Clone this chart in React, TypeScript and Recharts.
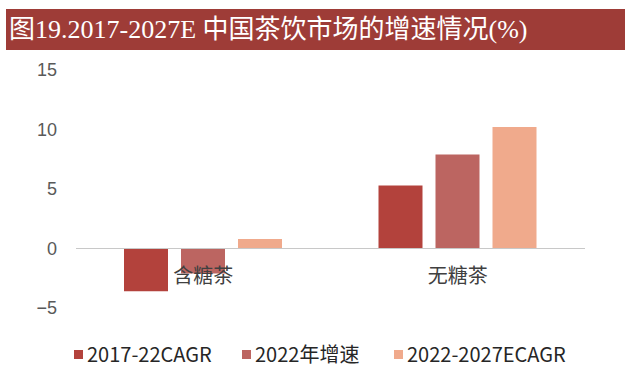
import React from "react";
import { BarChart, Bar, XAxis, YAxis, ReferenceLine, Legend } from "recharts";

const categories = ["含糖茶", "无糖茶"];
const cagr2017to2022 = [-3.6, 5.3];
const growth2022 = [-2.1, 7.9];
const cagr2022to2027 = [0.8, 10.2];
const yTicks = [-5, 0, 5, 10, 15];

const seriesNames = ["2017-22CAGR", "2022年增速", "2022-2027ECAGR"];
const seriesColors = ["#B3423C", "#BC6561", "#F0AA8C"];

const data = categories.map((name, i) => ({
  name,
  s1: cagr2017to2022[i],
  s2: growth2022[i],
  s3: cagr2022to2027[i],
}));

const CJK = '"Noto Sans CJK SC", "Liberation Sans", sans-serif';

function CategoryTick(props: any) {
  const { x, y, payload } = props;
  return (
    <text
      x={x}
      y={y - 42}
      textAnchor="middle"
      dominantBaseline="central"
      fill="#404040"
      fontSize={20}
      fontFamily={CJK}
    >
      {payload.value}
    </text>
  );
}

function LegendContent() {
  const lefts = [0, 168, 320];
  return (
    <div style={{ position: "relative", height: 24, width: 540 }}>
      {seriesNames.map((n, i) => (
        <div
          key={n}
          style={{
            position: "absolute",
            left: lefts[i],
            top: 0,
            display: "flex",
            alignItems: "center",
            whiteSpace: "nowrap",
          }}
        >
          <span
            style={{
              display: "inline-block",
              width: 9,
              height: 9,
              background: seriesColors[i],
              marginRight: 4,
            }}
          />
          <span style={{ fontFamily: CJK, fontSize: 20, color: "#262626", lineHeight: "24px" }}>{n}</span>
        </div>
      ))}
    </div>
  );
}

export default function App() {
  return (
    <div
      style={{
        position: "absolute",
        left: 0,
        top: 0,
        width: 640,
        height: 386,
        background: "#ffffff",
      }}
    >
      <div
        style={{
          position: "absolute",
          left: 6,
          top: 9,
          width: 619,
          height: 41,
          background: "#9E3C37",
          color: "#ffffff",
          fontFamily: '"Liberation Serif", "Noto Sans CJK SC", serif',
          fontSize: 26,
          lineHeight: "41px",
          paddingLeft: 3,
          boxSizing: "border-box",
          whiteSpace: "nowrap",
        }}
      >
        图19.2017-2027E 中国茶饮市场的增速情况(%)
      </div>
      <BarChart
        width={640}
        height={386}
        data={data}
        margin={{ top: 70, right: 55, left: 16, bottom: 48 }}
        barSize={44}
        barGap={13}
      >
        <XAxis
          dataKey="name"
          axisLine={false}
          tickLine={false}
          height={30}
          tick={<CategoryTick />}
        />
        <YAxis
          domain={[-5, 15]}
          ticks={yTicks}
          interval={0}
          axisLine={false}
          tickLine={false}
          width={60}
          tickMargin={13}
          tickFormatter={(v: number) => String(v).replace("-", "−")}
          tick={{ fill: "#595959", fontSize: 18, fontFamily: '"Liberation Sans", Arial, sans-serif' }}
        />
        <ReferenceLine y={0} stroke="#C8C8C8" strokeWidth={1.2} />
        <Bar dataKey="s1" name={seriesNames[0]} fill={seriesColors[0]} isAnimationActive={false} />
        <Bar dataKey="s2" name={seriesNames[1]} fill={seriesColors[1]} isAnimationActive={false} />
        <Bar dataKey="s3" name={seriesNames[2]} fill={seriesColors[2]} isAnimationActive={false} />
        <Legend
          layout="horizontal"
          verticalAlign="middle"
          align="center"
          wrapperStyle={{ position: "absolute", top: 342, left: 74, width: 560 }}
          content={<LegendContent />}
        />
      </BarChart>
    </div>
  );
}
